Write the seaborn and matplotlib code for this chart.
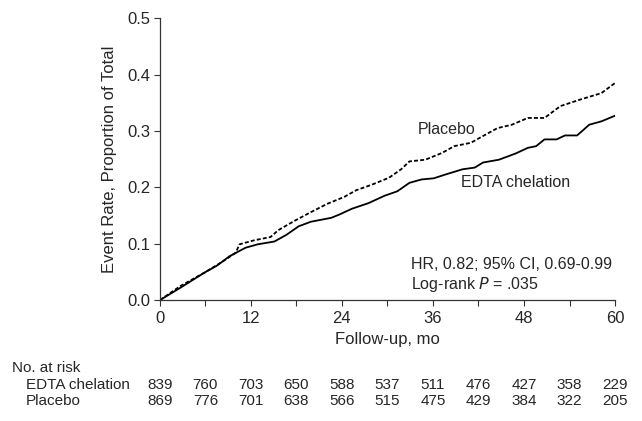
import pandas as pd
import seaborn as sns
import matplotlib.pyplot as plt
from matplotlib import transforms

# curve values (month, cumulative event rate)
placebo_months = [0, 2.7, 5.9, 8.1, 10.0, 10.5, 12.4, 14.6, 15.6, 17.8, 19.9, 22.1, 24.3, 25.9, 28.0,
                  30.2, 31.8, 32.9, 35.0, 37.2, 38.8, 41.0, 42.6, 44.5, 46.4, 48.5, 50.7, 52.8, 55.5, 58.2, 60]
placebo_rate = [0, 0.025, 0.049, 0.067, 0.084, 0.099, 0.106, 0.112, 0.124, 0.141, 0.156, 0.171, 0.183, 0.195, 0.205,
                0.217, 0.232, 0.246, 0.249, 0.261, 0.273, 0.279, 0.291, 0.305, 0.311, 0.323, 0.323, 0.344, 0.356, 0.367, 0.385]

edta_months = [0, 2.7, 5.9, 7.5, 9.2, 11.3, 12.9, 15.1, 16.7, 18.3, 19.9, 22.6, 23.7, 25.3, 27.5, 29.6,
               31.3, 32.9, 34.5, 36.1, 37.7, 39.9, 41.5, 42.6, 44.7, 46.9, 48.5, 49.6, 50.7, 52.3, 53.4,
               55.0, 56.6, 58.2, 60]
edta_rate = [0, 0.022, 0.049, 0.061, 0.078, 0.093, 0.099, 0.104, 0.116, 0.131, 0.139, 0.146, 0.152, 0.162, 0.172, 0.185,
             0.193, 0.208, 0.214, 0.216, 0.223, 0.232, 0.235, 0.244, 0.249, 0.260, 0.270, 0.273, 0.285, 0.285, 0.292,
             0.292, 0.311, 0.317, 0.327]

risk_months = [0, 6, 12, 18, 24, 30, 36, 42, 48, 54, 60]
risk_edta = [839, 760, 703, 650, 588, 537, 511, 476, 427, 358, 229]
risk_placebo = [869, 776, 701, 638, 566, 515, 475, 429, 384, 322, 205]

sns.set_style('ticks')
plt.rcParams['font.family'] = ['Liberation Sans', 'DejaVu Sans']

df = pd.concat([
    pd.DataFrame({'month': placebo_months, 'rate': placebo_rate, 'group': 'Placebo'}),
    pd.DataFrame({'month': edta_months, 'rate': edta_rate, 'group': 'EDTA chelation'}),
])

fig = plt.figure(figsize=(6.42, 4.21), dpi=100)
ax = fig.add_axes([0.249, 0.287, 0.709, 0.670])

sns.lineplot(data=df, x='month', y='rate', hue='group', style='group',
             palette={'Placebo': 'black', 'EDTA chelation': 'black'},
             dashes={'Placebo': (2.2, 1.2), 'EDTA chelation': ''},
             linewidth=1.3, legend=False, ax=ax)

ax.set_xlim(0, 60)
ax.set_ylim(0, 0.5)
ax.set_xticks(range(0, 61, 6))
ax.set_xticklabels([str(m) if m % 12 == 0 else '' for m in range(0, 61, 6)])
ax.set_yticks([0, 0.1, 0.2, 0.3, 0.4, 0.5])
ax.set_yticklabels(['0.0', '0.1', '0.2', '0.3', '0.4', '0.5'])
ax.tick_params(labelsize=12, length=4, width=0.8, color='#333333')
ax.tick_params(axis='x', pad=4)
ax.tick_params(axis='y', pad=3)
sns.despine(ax=ax)
for s in ['left', 'bottom']:
    ax.spines[s].set_linewidth(0.9)
    ax.spines[s].set_color('#333333')
ax.set_xlabel('Follow-up, mo', fontsize=12, labelpad=4)
ax.set_ylabel('Event Rate, Proportion of Total', fontsize=12, labelpad=7)

ax.text(34.0, 0.302, 'Placebo', fontsize=11.5, va='center')
ax.text(39.7, 0.208, 'EDTA chelation', fontsize=11.5, va='center')
ax.text(33.1, 0.064, 'HR, 0.82; 95% CI, 0.69-0.99', fontsize=11.5, va='center')
ax.text(33.1, 0.028, 'Log-rank $\\it{P}$ = .035', fontsize=11.5, va='center')

# number at risk table
trans = transforms.blended_transform_factory(ax.transData, fig.transFigure)
fig.text(12 / 642, 1 - 368 / 421, 'No. at risk', fontsize=11, va='center')
fig.text(26 / 642, 1 - 385 / 421, 'EDTA chelation', fontsize=11, va='center')
fig.text(26 / 642, 1 - 401 / 421, 'Placebo', fontsize=11, va='center')
for m, a, b in zip(risk_months, risk_edta, risk_placebo):
    ax.text(m, 1 - 385 / 421, str(a), transform=trans, fontsize=11, ha='center', va='center', clip_on=False)
    ax.text(m, 1 - 401 / 421, str(b), transform=trans, fontsize=11, ha='center', va='center', clip_on=False)

fig.savefig('out.png', dpi=100)
